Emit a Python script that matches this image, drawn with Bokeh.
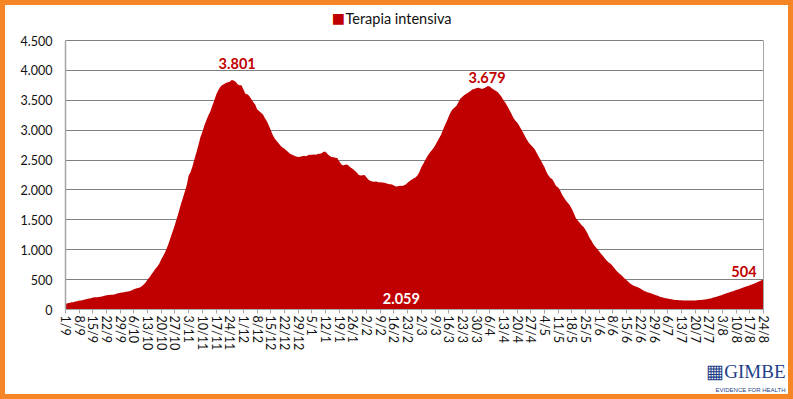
from bokeh.plotting import figure
from bokeh.models import Range1d, FixedTicker, Label, Title, LinearAxis
from bokeh.embed import file_html
from bokeh.resources import INLINE

# Daily ICU occupancy, 1/9/2020 .. 24/8/2021 (358 days)
icu = [
    94, 103, 107, 120, 123, 133, 140,
    150, 151, 160, 168, 175, 182, 190,
    200, 204, 207, 210, 215, 222, 231,
    240, 243, 246, 248, 252, 262, 270,
    280, 284, 290, 295, 303, 310, 320,
    340, 350, 358, 370, 390, 420, 450,
    500, 540, 590, 630, 680, 720, 770,
    840, 900, 960, 1040, 1130, 1230, 1320,
    1420, 1530, 1640, 1760, 1860, 1970, 2080,
    2240, 2300, 2400, 2520, 2630, 2750, 2880,
    2970, 3080, 3160, 3240, 3310, 3400, 3490,
    3590, 3660, 3720, 3750, 3770, 3790, 3800,
    3810, 3840, 3830, 3810, 3770, 3750, 3750,
    3680, 3610, 3600, 3570, 3520, 3470, 3430,
    3350, 3320, 3290, 3260, 3200, 3150, 3080,
    3000, 2920, 2860, 2820, 2780, 2740, 2710,
    2690, 2660, 2630, 2600, 2590, 2570, 2560,
    2550, 2555, 2565, 2570, 2565, 2580, 2590,
    2590, 2595, 2590, 2600, 2605, 2615, 2640,
    2640, 2600, 2570, 2550, 2545, 2540, 2535,
    2480, 2430, 2410, 2420, 2425, 2400, 2370,
    2350, 2320, 2290, 2250, 2240, 2245, 2252,
    2210, 2170, 2150, 2140, 2135, 2140, 2130,
    2130, 2125, 2120, 2110, 2100, 2095, 2090,
    2075, 2059, 2062, 2070, 2065, 2075, 2090,
    2120, 2150, 2170, 2190, 2210, 2240, 2300,
    2380, 2440, 2500, 2560, 2610, 2650, 2690,
    2740, 2800, 2860, 2920, 3000, 3080, 3150,
    3230, 3300, 3350, 3380, 3410, 3470, 3530,
    3560, 3590, 3610, 3630, 3650, 3680, 3690,
    3700, 3710, 3700, 3690, 3700, 3720, 3740,
    3730, 3700, 3680, 3660, 3640, 3600, 3560,
    3500, 3460, 3400, 3340, 3280, 3210, 3160,
    3130, 3080, 3020, 2960, 2900, 2840, 2790,
    2750, 2720, 2680, 2620, 2560, 2500, 2440,
    2380, 2300, 2240, 2200, 2180, 2120, 2060,
    2040, 1990, 1920, 1870, 1820, 1780, 1740,
    1680, 1610, 1530, 1490, 1450, 1410, 1380,
    1330, 1270, 1200, 1150, 1090, 1050, 1010,
    970, 930, 890, 850, 810, 780, 760,
    720, 680, 640, 610, 580, 550, 520,
    490, 460, 430, 410, 395, 380, 370,
    350, 330, 310, 295, 285, 275, 265,
    250, 240, 228, 215, 205, 198, 190,
    182, 176, 170, 165, 160, 157, 155,
    153, 152, 150, 150, 149, 150, 152,
    152, 155, 158, 160, 163, 168, 172,
    178, 185, 195, 205, 215, 225, 234,
    245, 258, 270, 282, 292, 302, 312,
    325, 335, 346, 360, 372, 385, 395,
    405, 418, 430, 445, 460, 472, 490,
    504,
]
day_index = list(range(len(icu)))

x_tick_labels = ["1/9", "8/9", "15/9", "22/9", "29/9", "6/10", "13/10", "20/10", "27/10",
                 "3/11", "10/11", "17/11", "24/11", "1/12", "8/12", "15/12", "22/12", "29/12",
                 "5/1", "12/1", "19/1", "26/1", "2/2", "9/2", "16/2", "23/2", "2/3", "9/3",
                 "16/3", "23/3", "30/3", "6/4", "13/4", "20/4", "27/4", "4/5", "11/5", "18/5",
                 "25/5", "1/6", "8/6", "15/6", "22/6", "29/6", "6/7", "13/7", "20/7", "27/7",
                 "3/8", "10/8", "17/8", "24/8"]
x_ticks = list(range(0, len(icu), 7))

y_ticks = [0, 500, 1000, 1500, 2000, 2500, 3000, 3500, 4000, 4500]
y_tick_labels = ["0", "500", "1.000", "1.500", "2.000", "2.500", "3.000", "3.500", "4.000", "4.500"]

series_name = "Terapia intensiva"
annotations = [("3.801", 87.8, 4107, "#C00000"), ("3.679", 215.6, 3886, "#C00000"),
               ("2.059", 171.8, 189, "#FFFFFF"), ("504", 347.0, 644, "#C00000")]

RED = "#C00000"
NAVY = "#1F3F8A"
FONT = "Lato"
Y_MAX = 4500
Y_TOP = Y_MAX + 32 * Y_MAX / 269  # extra room above the plot area for the legend

p = figure(width=793, height=399, output_backend="svg", toolbar_location=None,
           x_range=Range1d(0, len(icu) - 1), y_range=Range1d(0, Y_TOP),
           min_border_left=60, min_border_right=35, min_border_top=3, min_border_bottom=95)
p.styles = {"border": "5px solid #F58525"}
p.background_fill_color = "white"
p.border_fill_color = "white"
p.outline_line_color = None

r = p.varea(x=day_index, y1=0, y2=icu, fill_color=RED)

# axes
p.xaxis.ticker = FixedTicker(ticks=x_ticks)
p.xaxis.major_label_overrides = {t: l for t, l in zip(x_ticks, x_tick_labels)}
p.xaxis.major_label_orientation = -1.5707963
p.xaxis.major_label_text_font = FONT
p.xaxis.major_label_text_font_size = "12.5px"
p.xaxis.major_label_text_color = "#111111"
p.xaxis.major_label_standoff = 2
p.xaxis.axis_line_color = "#A6A6A6"
p.xaxis.major_tick_line_color = "#A6A6A6"
p.xaxis.major_tick_out = 4
p.xaxis.major_tick_in = 0
p.xaxis.minor_tick_line_color = None

p.yaxis.ticker = FixedTicker(ticks=y_ticks)
p.yaxis.bounds = (0, Y_MAX)
p.yaxis.major_label_overrides = {t: l for t, l in zip(y_ticks, y_tick_labels)}
p.yaxis.major_label_text_font = FONT
p.yaxis.major_label_text_font_size = "12.5px"
p.yaxis.major_label_text_color = "#111111"
p.yaxis.major_label_standoff = 13
p.yaxis.axis_line_color = "#A6A6A6"
p.yaxis.axis_line_width = 1.5
p.yaxis.major_tick_line_color = None
p.yaxis.major_tick_out = 0
p.yaxis.major_tick_in = 0
p.yaxis.minor_tick_line_color = None

# right border line of the plot area
right_axis = LinearAxis(bounds=(0, Y_MAX), ticker=FixedTicker(ticks=[]),
                        axis_line_color="#A6A6A6", major_tick_line_color=None,
                        minor_tick_line_color=None, major_label_text_font_size="0px")
p.add_layout(right_axis, "right")

p.xgrid.grid_line_color = None
p.ygrid.ticker = FixedTicker(ticks=y_ticks)
p.ygrid.grid_line_color = "#808080"
p.ygrid.grid_line_width = 1

# legend at top (square + text), inside the extended frame
p.add_layout(Label(x=139.6, y=4876, text="■", text_align="center", text_baseline="middle",
                   text_font="DejaVu Sans", text_font_size="14px", text_color=RED))
p.add_layout(Label(x=143.2, y=4868, text=series_name, text_align="left", text_baseline="middle",
                   text_font=FONT, text_font_size="14.5px", text_color="#111111"))

# value annotations
for txt, xv, yv, col in annotations:
    p.add_layout(Label(x=xv, y=yv, text=txt, text_align="center", text_baseline="middle",
                       text_font=FONT, text_font_style="bold", text_font_size="14.5px",
                       text_color=col))

# GIMBE logo (text) below the axis
p.add_layout(Title(text="▦GIMBE", align="right", offset=-22, standoff=11,
                   text_font="Liberation Serif", text_font_size="19px",
                   text_font_style="normal", text_color=NAVY), "below")
p.add_layout(Title(text="EVIDENCE FOR HEALTH", align="right", offset=-22, standoff=-10,
                   text_font="Liberation Sans", text_font_size="6px",
                   text_font_style="normal", text_color=NAVY), "below")

open("out.html", "w").write(file_html(p, INLINE))
